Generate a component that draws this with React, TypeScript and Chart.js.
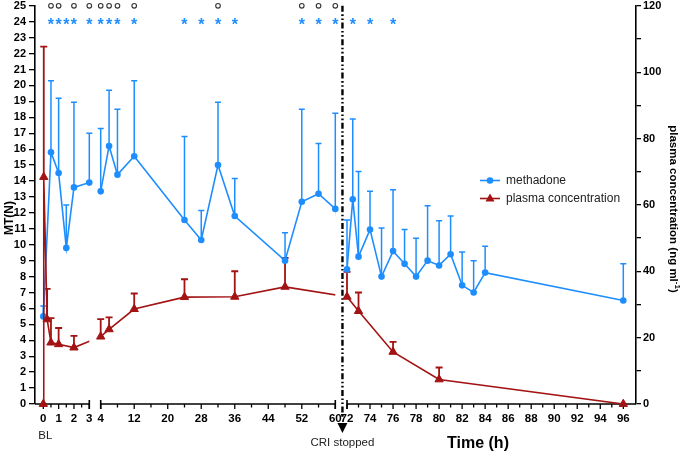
import React, { useEffect, useRef } from 'react';
import { Chart, registerables } from 'chart.js';

Chart.register(...registerables);

// ---------------- data ----------------
const methadoneTime = [0, 0.5, 1, 1.5, 2, 3, 4, 6, 8, 12, 24, 28, 32, 36, 48, 52, 56, 60, 72, 72.5, 73, 74, 75, 76, 77, 78, 79, 80, 81, 82, 83, 84, 96];
const methadoneMean = [5.5, 15.8, 14.5, 9.8, 13.6, 13.9, 13.35, 16.2, 14.4, 15.55, 11.55, 10.3, 15.0, 11.8, 9.0, 12.7, 13.2, 12.25, 8.45, 12.85, 9.25, 10.95, 8.0, 9.6, 8.8, 8.0, 9.0, 8.7, 9.4, 7.45, 7.0, 8.25, 6.5];
const methadoneSD = [0.65, 4.5, 4.7, 2.7, 5.35, 3.1, 3.95, 3.5, 4.1, 4.75, 5.25, 1.85, 3.95, 2.35, 1.75, 5.8, 3.15, 6.0, 3.1, 5.05, 5.35, 2.4, 3.05, 3.85, 2.15, 2.4, 3.45, 2.8, 2.4, 2.1, 2.0, 1.65, 2.3];

const plasmaTime = [0, 0.03, 0.25, 0.5, 1, 2, 4, 6, 12, 24, 36, 48, 72, 73, 76, 80, 96];
const plasmaMean = [0, 68.4, 25.5, 18.5, 18.0, 17.0, 20.3, 22.5, 28.6, 32.2, 32.3, 35.3, 32.3, 28.0, 15.7, 7.4, 0];
const plasmaSD = [0, 39.3, 9.2, 7.4, 4.9, 3.5, 5.3, 3.6, 4.7, 5.4, 7.7, 8.7, 7.5, 5.6, 3.0, 3.6, 0];

const starTimes = [0.5, 1, 1.5, 2, 3, 4, 6, 8, 12, 24, 28, 32, 36, 52, 56, 60, 72.5, 74, 76];
const circleTimes = [0.5, 1, 2, 3, 4, 6, 8, 12, 32, 52, 56, 60];
const STAR_LEVEL = 24;
const CIRCLE_LEVEL = 25;

const xMajorTicks = [0, 1, 2, 3, 4, 12, 20, 28, 36, 44, 52, 60, 72, 74, 76, 78, 80, 82, 84, 86, 88, 90, 92, 94, 96];
const xMinorTicks = [0.5, 1.5, 2.5, 8, 16, 24, 32, 40, 48, 56, 73, 75, 77, 79, 81, 83, 85, 87, 89, 91, 93, 95];
const leftTicks = Array.from({ length: 26 }, (_, i) => i);
const rightTicks = [0, 10, 20, 30, 40, 50, 60, 70, 80, 90, 100, 110, 120];
const rightLabelEvery = 20;

// ---------------- layout of the broken time axis ----------------
const X_RANGE = 601;
const X_SEGMENTS = [
  { from: 0, to: 3, start: 8.3, end: 54.3 },
  { from: 4, to: 60, start: 65.7, end: 300.3 },
  { from: 72, to: 96, start: 312, end: 588.3 },
];

function toAxis(t: number): number {
  for (const s of X_SEGMENTS) {
    if (t >= s.from - 1e-9 && t <= s.to + 1e-9) {
      return s.start + ((t - s.from) * (s.end - s.start)) / (s.to - s.from);
    }
  }
  for (let i = 0; i < X_SEGMENTS.length - 1; i++) {
    const a = X_SEGMENTS[i];
    const b = X_SEGMENTS[i + 1];
    if (t > a.to && t < b.from) return a.end + ((t - a.to) * (b.start - a.end)) / (b.from - a.to);
  }
  return 0;
}

const FONT = "'Liberation Sans', Arial, Helvetica, sans-serif";
const BLUE = '#1E8EFF';
const RED = '#A31313';

function drawErrorBars(ctx: any, xs: any, ys: any, times: number[], mean: number[], sd: number[], color: string, lw: number, cap: number) {
  ctx.save();
  ctx.strokeStyle = color;
  ctx.lineWidth = lw;
  times.forEach((t, i) => {
    if (!sd[i]) return;
    const x = xs.getPixelForValue(toAxis(t));
    const y0 = ys.getPixelForValue(mean[i]);
    const y1 = ys.getPixelForValue(mean[i] + sd[i]);
    ctx.beginPath();
    ctx.moveTo(x, y0);
    ctx.lineTo(x, y1);
    ctx.moveTo(x - cap, y1);
    ctx.lineTo(x + cap, y1);
    ctx.stroke();
  });
  ctx.restore();
}

const chartPlugin = {
  id: 'brokenAxisDecor',
  beforeDatasetDraw(chart: any, args: any) {
    const ds = chart.data.datasets[args.index];
    if (!ds.breakClip) return;
    const { ctx } = chart;
    const xs = chart.scales.x;
    ctx.save();
    ctx.beginPath();
    let left = 0;
    for (let i = 0; i < X_SEGMENTS.length - 1; i++) {
      const gapL = xs.getPixelForValue(X_SEGMENTS[i].end);
      const gapR = xs.getPixelForValue(X_SEGMENTS[i + 1].start);
      ctx.rect(left, 0, gapL - left, chart.height);
      left = gapR;
    }
    ctx.rect(left, 0, chart.width - left, chart.height);
    ctx.clip();
  },
  afterDatasetDraw(chart: any, args: any) {
    const ds = chart.data.datasets[args.index];
    if (!ds.breakClip) return;
    chart.ctx.restore();
  },
  beforeDatasetsDraw(chart: any) {
    const { ctx, chartArea: a } = chart;
    const xs = chart.scales.x;
    const y = a.bottom;

    // broken x axis
    ctx.save();
    ctx.strokeStyle = '#000';
    ctx.lineWidth = 1.6;
    X_SEGMENTS.forEach((s, i) => {
      const x0 = i === 0 ? a.left : xs.getPixelForValue(s.start);
      const x1 = i === X_SEGMENTS.length - 1 ? a.right : xs.getPixelForValue(s.end);
      ctx.beginPath();
      ctx.moveTo(x0, y);
      ctx.lineTo(x1, y);
      ctx.stroke();
      const caps: number[] = [];
      if (i > 0) caps.push(xs.getPixelForValue(s.start));
      if (i < X_SEGMENTS.length - 1) caps.push(xs.getPixelForValue(s.end));
      caps.forEach((cx) => {
        ctx.beginPath();
        ctx.moveTo(cx, y - 4);
        ctx.lineTo(cx, y + 5);
        ctx.stroke();
      });
    });
    ctx.lineWidth = 1.3;
    xMajorTicks.forEach((t) => {
      const x = xs.getPixelForValue(toAxis(t));
      ctx.beginPath();
      ctx.moveTo(x, y);
      ctx.lineTo(x, y + 5);
      ctx.stroke();
    });
    xMinorTicks.forEach((t) => {
      const x = xs.getPixelForValue(toAxis(t));
      ctx.beginPath();
      ctx.moveTo(x, y);
      ctx.lineTo(x, y + 3.5);
      ctx.stroke();
    });
    ctx.fillStyle = '#000';
    ctx.font = `bold 11.5px ${FONT}`;
    ctx.textAlign = 'center';
    ctx.textBaseline = 'middle';
    xMajorTicks.forEach((t) => {
      const x = xs.getPixelForValue(toAxis(t));
      ctx.fillText(String(t), x, y + 14.5);
    });
    ctx.restore();

    // error bars
    drawErrorBars(ctx, xs, chart.scales.y, methadoneTime, methadoneMean, methadoneSD, BLUE, 1.5, 3);
    drawErrorBars(ctx, xs, chart.scales.y2, plasmaTime, plasmaMean, plasmaSD, RED, 1.8, 3.5);

    // CRI stopped marker line
    const cx = (xs.getPixelForValue(X_SEGMENTS[1].end) + xs.getPixelForValue(X_SEGMENTS[2].start)) / 2 + 1.3;
    ctx.save();
    ctx.strokeStyle = '#000';
    ctx.lineWidth = 2.4;
    ctx.setLineDash([6, 2.5, 1.6, 2.5, 1.6, 2.5]);
    ctx.beginPath();
    ctx.moveTo(cx, a.top);
    ctx.lineTo(cx, y + 14);
    ctx.stroke();
    ctx.restore();
  },
  afterDatasetsDraw(chart: any) {
    const { ctx, chartArea: a } = chart;
    const xs = chart.scales.x;
    const ys = chart.scales.y;

    // significance stars
    ctx.save();
    ctx.fillStyle = BLUE;
    ctx.font = `bold 16px ${FONT}`;
    ctx.textAlign = 'center';
    ctx.textBaseline = 'alphabetic';
    starTimes.forEach((t) => {
      const x = xs.getPixelForValue(toAxis(t));
      ctx.fillText('*', x, ys.getPixelForValue(STAR_LEVEL) + 8.5);
    });
    ctx.restore();

    // CRI arrow + texts
    const cx = (xs.getPixelForValue(X_SEGMENTS[1].end) + xs.getPixelForValue(X_SEGMENTS[2].start)) / 2 + 1.3;
    ctx.save();
    ctx.fillStyle = '#000';
    ctx.beginPath();
    ctx.moveTo(cx - 5, a.bottom + 19);
    ctx.lineTo(cx + 5, a.bottom + 19);
    ctx.lineTo(cx, a.bottom + 29);
    ctx.closePath();
    ctx.fill();
    ctx.fillStyle = '#222';
    ctx.font = `11.5px ${FONT}`;
    ctx.textAlign = 'center';
    ctx.textBaseline = 'middle';
    ctx.fillText('CRI stopped', cx, a.bottom + 39);
    ctx.fillText('BL', xs.getPixelForValue(toAxis(0)) + 2, a.bottom + 32);

    // axis titles
    ctx.fillStyle = '#000';
    ctx.font = `bold 16px ${FONT}`;
    ctx.fillText('Time (h)', 478, a.bottom + 40);

    ctx.save();
    ctx.translate(10, 218);
    ctx.rotate(-Math.PI / 2);
    ctx.font = `bold 12px ${FONT}`;
    ctx.fillText('MT(N)', 0, 0);
    ctx.restore();

    ctx.save();
    ctx.translate(673, 209);
    ctx.rotate(Math.PI / 2);
    ctx.font = `bold 11.5px ${FONT}`;
    const p1 = 'plasma concentration (ng ml';
    const sup = '-1';
    const p3 = ')';
    const w1 = ctx.measureText(p1).width;
    ctx.font = `bold 8px ${FONT}`;
    const w2 = ctx.measureText(sup).width;
    ctx.font = `bold 11.5px ${FONT}`;
    const w3 = ctx.measureText(p3).width;
    let sx = -(w1 + w2 + w3) / 2;
    ctx.textAlign = 'left';
    ctx.fillText(p1, sx, 0);
    sx += w1;
    ctx.font = `bold 8px ${FONT}`;
    ctx.fillText(sup, sx, -4);
    sx += w2;
    ctx.font = `bold 11.5px ${FONT}`;
    ctx.fillText(p3, sx, 0);
    ctx.restore();

    // legend
    const items = [
      { label: 'methadone', color: BLUE, y: 180.5, style: 'circle' },
      { label: 'plasma concentration', color: RED, y: 198.5, style: 'triangle' },
    ];
    items.forEach((it) => {
      ctx.strokeStyle = it.color;
      ctx.fillStyle = it.color;
      ctx.lineWidth = 1.6;
      ctx.beginPath();
      ctx.moveTo(480, it.y);
      ctx.lineTo(500, it.y);
      ctx.stroke();
      ctx.beginPath();
      if (it.style === 'circle') {
        ctx.arc(490, it.y, 3.3, 0, Math.PI * 2);
      } else {
        ctx.moveTo(490, it.y - 5);
        ctx.lineTo(494.5, it.y + 3);
        ctx.lineTo(485.5, it.y + 3);
        ctx.closePath();
      }
      ctx.fill();
      ctx.fillStyle = '#222';
      ctx.font = `12px ${FONT}`;
      ctx.textAlign = 'left';
      ctx.textBaseline = 'middle';
      ctx.fillText(it.label, 506, it.y + 0.5);
    });
    ctx.restore();
  },
};

export default function App() {
  const canvasRef = useRef<HTMLCanvasElement | null>(null);

  useEffect(() => {
    const canvas = canvasRef.current;
    if (!canvas) return;

    const methPts = methadoneTime.map((t, i) => ({ x: toAxis(t), y: methadoneMean[i] }));
    const plasPts = plasmaTime.map((t, i) => ({ x: toAxis(t), y: plasmaMean[i] }));
    const circPts = circleTimes.map((t) => ({ x: toAxis(t), y: CIRCLE_LEVEL }));

    const chart = new Chart(canvas, {
      type: 'scatter',
      data: {
        datasets: [
          {
            label: 'plasma concentration markers',
            data: plasPts,
            yAxisID: 'y2',
            showLine: false,
            pointStyle: 'triangle',
            pointRadius: 4.8,
            backgroundColor: RED,
            borderColor: RED,
            borderWidth: 1,
            clip: false,
            order: 0,
          } as any,
          {
            label: 'plasma concentration',
            data: plasPts,
            yAxisID: 'y2',
            showLine: true,
            borderColor: RED,
            borderWidth: 1.6,
            pointRadius: 0,
            tension: 0,
            breakClip: true,
            order: 1,
          } as any,
          {
            label: 'methadone markers',
            data: methPts,
            yAxisID: 'y',
            showLine: false,
            pointStyle: 'circle',
            pointRadius: 3.3,
            backgroundColor: BLUE,
            borderColor: BLUE,
            borderWidth: 0,
            clip: false,
            order: 2,
          } as any,
          {
            label: 'methadone',
            data: methPts,
            yAxisID: 'y',
            showLine: true,
            borderColor: BLUE,
            borderWidth: 1.6,
            pointRadius: 0,
            tension: 0,
            breakClip: true,
            order: 3,
          } as any,
          {
            label: 'significance vs BL',
            data: circPts,
            yAxisID: 'y',
            showLine: false,
            pointStyle: 'circle',
            pointRadius: 2.3,
            backgroundColor: 'rgba(0,0,0,0)',
            borderColor: '#333',
            borderWidth: 1.1,
            clip: false,
            order: 4,
          } as any,
        ],
      },
      options: {
        responsive: false,
        animation: false,
        events: [],
        layout: { padding: { top: 5.5, bottom: 50, left: 0, right: 0 } },
        plugins: { legend: { display: false }, tooltip: { enabled: false } },
        scales: {
          x: { type: 'linear', min: 0, max: X_RANGE, display: false },
          y: {
            type: 'linear',
            position: 'left',
            min: 0,
            max: 25,
            afterBuildTicks: (s: any) => {
              s.ticks = leftTicks.map((v) => ({ value: v }));
            },
            afterFit: (s: any) => {
              s.width = 35;
              s.paddingTop = 0;
              s.paddingBottom = 0;
            },
            ticks: {
              autoSkip: false,
              padding: 3,
              color: '#000',
              font: { family: FONT, size: 11, weight: 'bold' },
            },
            grid: { drawOnChartArea: false, tickLength: 6, color: '#000', lineWidth: 1.3 },
            border: { color: '#000', width: 1.6 },
          },
          y2: {
            type: 'linear',
            position: 'right',
            min: 0,
            max: 120,
            afterBuildTicks: (s: any) => {
              s.ticks = rightTicks.map((v) => ({ value: v }));
            },
            afterFit: (s: any) => {
              s.width = 49;
              s.paddingTop = 0;
              s.paddingBottom = 0;
            },
            ticks: {
              autoSkip: false,
              padding: 2,
              color: '#000',
              font: { family: FONT, size: 11, weight: 'bold' },
              callback: (v: any) => (Number(v) % rightLabelEvery === 0 ? String(v) : ''),
            },
            grid: { drawOnChartArea: false, tickLength: 5, color: '#000', lineWidth: 1.3 },
            border: { color: '#000', width: 1.6 },
          },
        },
      } as any,
      plugins: [chartPlugin as any],
    });

    return () => chart.destroy();
  }, []);

  return (
    <div style={{ position: 'absolute', left: 0, top: 0, width: 685, height: 454, background: '#fff' }}>
      <canvas ref={canvasRef} width={685} height={454} style={{ display: 'block', width: 685, height: 454 }} />
    </div>
  );
}
